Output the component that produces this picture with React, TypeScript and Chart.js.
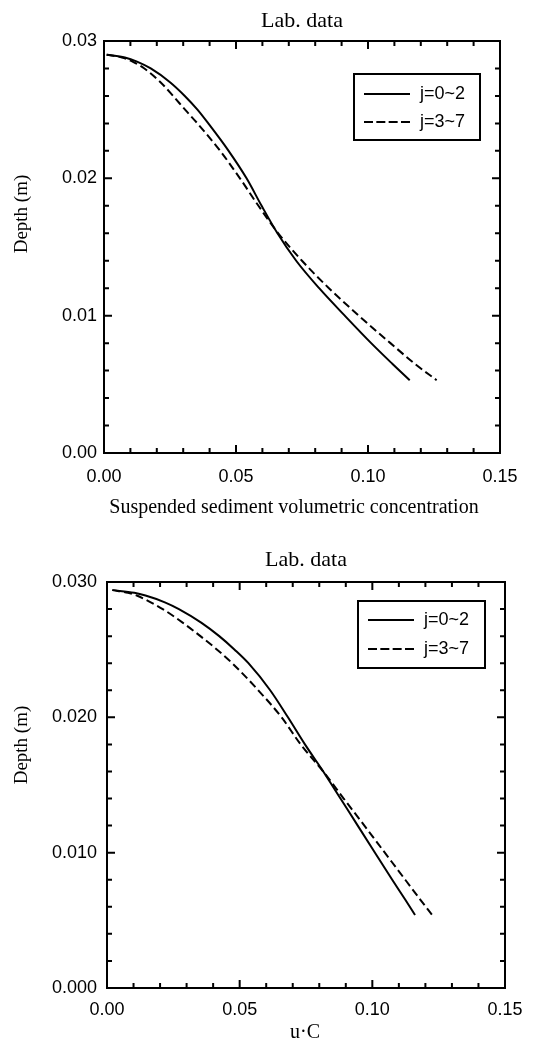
import React, { useEffect, useRef } from 'react';
import { Chart, registerables } from 'chart.js';

Chart.register(...registerables);

// ---------------- data ----------------
const CHART_TITLE = 'Lab. data';
const SERIES_LABELS = ['j=0~2', 'j=3~7'];

const X_TICKS = [0, 0.05, 0.1, 0.15];
const X_TICK_LABELS = ['0.00', '0.05', '0.10', '0.15'];

const Y_TICKS = [0, 0.01, 0.02, 0.03];
const Y_TICK_LABELS_TOP = ['0.00', '0.01', '0.02', '0.03'];
const Y_TICK_LABELS_BOTTOM = ['0.000', '0.010', '0.020', '0.030'];

// top panel: suspended sediment volumetric concentration vs depth
const DEPTH_TOP = [0.029, 0.0288, 0.0285, 0.028, 0.027, 0.026, 0.025, 0.024, 0.022, 0.02, 0.018, 0.016, 0.014, 0.012, 0.01, 0.008, 0.0065, 0.0053];
const CONC_J02 = [0.001, 0.0079, 0.0125, 0.0177, 0.025, 0.0306, 0.0354, 0.0395, 0.0472, 0.054, 0.0597, 0.0657, 0.0728, 0.0815, 0.0912, 0.1012, 0.1092, 0.1158];
const CONC_J37 = [0.001, 0.0068, 0.0108, 0.0153, 0.0214, 0.0262, 0.0307, 0.0354, 0.044, 0.0515, 0.0585, 0.066, 0.075, 0.0852, 0.0965, 0.1085, 0.1177, 0.126];

// bottom panel: u·C vs depth
const DEPTH_BOTTOM = [0.0294, 0.0292, 0.029, 0.0285, 0.028, 0.027, 0.026, 0.025, 0.024, 0.022, 0.02, 0.018, 0.016, 0.014, 0.012, 0.01, 0.008, 0.0065, 0.0054];
const UC_J02 = [0.002, 0.0103, 0.0145, 0.0218, 0.0271, 0.0355, 0.0423, 0.0481, 0.0533, 0.0615, 0.0682, 0.0746, 0.0815, 0.088, 0.0945, 0.101, 0.1075, 0.1125, 0.1161];
const UC_J37 = [0.002, 0.0079, 0.0112, 0.0165, 0.021, 0.0285, 0.0352, 0.0415, 0.0472, 0.057, 0.0658, 0.073, 0.0815, 0.0892, 0.097, 0.1047, 0.1124, 0.1182, 0.1225];

// ---------------- styling ----------------
const SANS = "'Liberation Sans', Arial, sans-serif";
const SERIF = "'Liberation Serif', 'Times New Roman', serif";

type Spec = {
  canvasH: number;
  yAxisW: number;
  padRight: number;
  xAxisH: number;
  titlePad: { top: number; bottom: number };
  xLabelPad: number;
  yLabelPad: number;
  depth: number[];
  s1: number[];
  s2: number[];
  yLabels: string[];
  yMax: number;
  xTitle: { text: string; x: number; y: number };
  yTitle: { text: string; x: number; y: number };
  legend: { x: number; y: number; w: number; h: number; rows: number[] };
};

const TOP_SPEC: Spec = {
  canvasH: 535,
  yAxisW: 104,
  padRight: 42,
  xAxisH: 82,
  titlePad: { top: 8, bottom: 6.6 },
  xLabelPad: 13,
  yLabelPad: 7,
  depth: DEPTH_TOP,
  s1: CONC_J02,
  s2: CONC_J37,
  yLabels: Y_TICK_LABELS_TOP,
  yMax: 0.03,
  xTitle: { text: 'Suspended sediment volumetric concentration', x: 294, y: 508 },
  yTitle: { text: 'Depth (m)', x: 22, y: 214 },
  legend: { x: 354, y: 74, w: 126, h: 66, rows: [20, 48] },
};

const BOTTOM_SPEC: Spec = {
  canvasH: 508,
  yAxisW: 107,
  padRight: 37,
  xAxisH: 55,
  titlePad: { top: 12, bottom: 8.6 },
  xLabelPad: 11,
  yLabelPad: 10,
  depth: DEPTH_BOTTOM,
  s1: UC_J02,
  s2: UC_J37,
  yLabels: Y_TICK_LABELS_BOTTOM,
  yMax: 0.03,
  xTitle: { text: 'u\u00B7C', x: 305, y: 498 },
  yTitle: { text: 'Depth (m)', x: 22, y: 210 },
  legend: { x: 358, y: 66, w: 127, h: 67, rows: [19, 48] },
};

const frameDecoPlugin = {
  id: 'frameDeco',
  afterDraw(chart: any, _args: any, opts: any) {
    const ctx: CanvasRenderingContext2D = chart.ctx;
    const { left, right, top, bottom } = chart.chartArea;
    const xs = chart.scales.x;
    const ys = chart.scales.y;
    const isMajor = (scale: any, v: number) => scale.ticks.some((t: any) => Math.abs(t.value - v) < 1e-9);
    ctx.save();
    ctx.strokeStyle = '#000';
    ctx.fillStyle = '#000';
    ctx.lineWidth = 2;
    ctx.setLineDash([]);

    // inward ticks on all four sides
    ctx.beginPath();
    const nx = Math.round((xs.max - xs.min) / opts.xMinorStep);
    for (let i = 0; i <= nx; i++) {
      const v = xs.min + i * opts.xMinorStep;
      const len = isMajor(xs, v) ? opts.majorLen : opts.minorLen;
      const p = xs.getPixelForValue(v);
      ctx.moveTo(p, bottom);
      ctx.lineTo(p, bottom - len);
      ctx.moveTo(p, top);
      ctx.lineTo(p, top + len);
    }
    const ny = Math.round((ys.max - ys.min) / opts.yMinorStep);
    for (let i = 0; i <= ny; i++) {
      const v = ys.min + i * opts.yMinorStep;
      const len = isMajor(ys, v) ? opts.majorLen : opts.minorLen;
      const p = ys.getPixelForValue(v);
      ctx.moveTo(left, p);
      ctx.lineTo(left + len, p);
      ctx.moveTo(right, p);
      ctx.lineTo(right - len, p);
    }
    ctx.stroke();

    // frame
    ctx.strokeRect(left, top, right - left, bottom - top);

    // legend
    const L = opts.legend;
    ctx.lineWidth = 2;
    ctx.strokeRect(L.x, L.y, L.w, L.h);
    chart.data.datasets.forEach((ds: any, i: number) => {
      const y = L.y + L.rows[i];
      ctx.setLineDash(i === 0 ? [] : opts.legendDash);
      ctx.beginPath();
      ctx.moveTo(L.x + opts.legendLineX, y);
      ctx.lineTo(L.x + opts.legendLineX + opts.legendLineLen, y);
      ctx.stroke();
      ctx.setLineDash([]);
      ctx.font = `18px ${SANS}`;
      ctx.textAlign = 'left';
      ctx.textBaseline = 'middle';
      ctx.fillText(ds.label, L.x + opts.legendTextX, y);
    });

    // axis titles
    ctx.font = `20px ${SERIF}`;
    ctx.textAlign = 'center';
    ctx.textBaseline = 'middle';
    ctx.fillText(opts.xTitle.text, opts.xTitle.x, opts.xTitle.y);
    ctx.save();
    ctx.translate(opts.yTitle.x, opts.yTitle.y);
    ctx.rotate(-Math.PI / 2);
    ctx.font = `19px ${SERIF}`;
    ctx.fillText(opts.yTitle.text, 0, 0);
    ctx.restore();

    ctx.restore();
  },
};

function makeConfig(spec: Spec): any {
  const mk = (vals: number[]) => spec.depth.map((d, i) => ({ x: vals[i], y: d }));
  return {
    type: 'line',
    data: {
      datasets: [
        {
          label: SERIES_LABELS[0],
          data: mk(spec.s1),
          borderColor: '#000',
          borderWidth: 2,
          pointRadius: 0,
          fill: false,
          cubicInterpolationMode: 'monotone',
        },
        {
          label: SERIES_LABELS[1],
          data: mk(spec.s2),
          borderColor: '#000',
          borderWidth: 2,
          borderDash: [8, 4],
          pointRadius: 0,
          fill: false,
          cubicInterpolationMode: 'monotone',
        },
      ],
    },
    options: {
      responsive: false,
      animation: false,
      devicePixelRatio: 1,
      events: [],
      layout: { padding: { left: 0, right: spec.padRight, top: 0, bottom: 0 } },
      plugins: {
        legend: { display: false },
        tooltip: { enabled: false },
        title: {
          display: true,
          text: CHART_TITLE,
          fullSize: false,
          color: '#000',
          font: { family: SERIF, size: 22, weight: 'normal' },
          padding: spec.titlePad,
        },
        frameDeco: {
          xMinorStep: 0.01,
          yMinorStep: 0.002,
          majorLen: 8,
          minorLen: 5,
          legend: spec.legend,
          legendLineX: 10,
          legendLineLen: 46,
          legendDash: [9, 3.33],
          legendTextX: 66,
          xTitle: spec.xTitle,
          yTitle: spec.yTitle,
        },
      },
      scales: {
        x: {
          type: 'linear',
          min: 0,
          max: 0.15,
          grid: { display: false, drawTicks: false },
          border: { display: false },
          afterBuildTicks: (s: any) => {
            s.ticks = X_TICKS.map((v) => ({ value: v }));
          },
          afterFit: (s: any) => {
            s.height = spec.xAxisH;
          },
          ticks: {
            padding: spec.xLabelPad,
            color: '#000',
            font: { family: SANS, size: 18 },
            maxRotation: 0,
            autoSkip: false,
            callback: (_v: any, i: number) => X_TICK_LABELS[i],
          },
        },
        y: {
          type: 'linear',
          min: 0,
          max: spec.yMax,
          grid: { display: false, drawTicks: false },
          border: { display: false },
          afterBuildTicks: (s: any) => {
            s.ticks = Y_TICKS.map((v) => ({ value: v }));
          },
          afterFit: (s: any) => {
            s.width = spec.yAxisW;
          },
          ticks: {
            padding: spec.yLabelPad,
            color: '#000',
            font: { family: SANS, size: 18 },
            autoSkip: false,
            callback: (_v: any, i: number) => spec.yLabels[i],
          },
        },
      },
    },
    plugins: [frameDecoPlugin],
  };
}

function ChartCanvas({ spec, top }: { spec: Spec; top: number }) {
  const ref = useRef<HTMLCanvasElement>(null);
  useEffect(() => {
    if (!ref.current) return;
    const chart = new Chart(ref.current, makeConfig(spec));
    return () => chart.destroy();
  }, [spec]);
  return (
    <canvas
      ref={ref}
      width={542}
      height={spec.canvasH}
      style={{ position: 'absolute', left: 0, top, width: 542, height: spec.canvasH, display: 'block' }}
    />
  );
}

export default function App() {
  return (
    <div style={{ position: 'absolute', left: 0, top: 0, width: 542, height: 1043, background: '#fff', overflow: 'hidden' }}>
      <ChartCanvas spec={TOP_SPEC} top={0} />
      <ChartCanvas spec={BOTTOM_SPEC} top={535} />
    </div>
  );
}
